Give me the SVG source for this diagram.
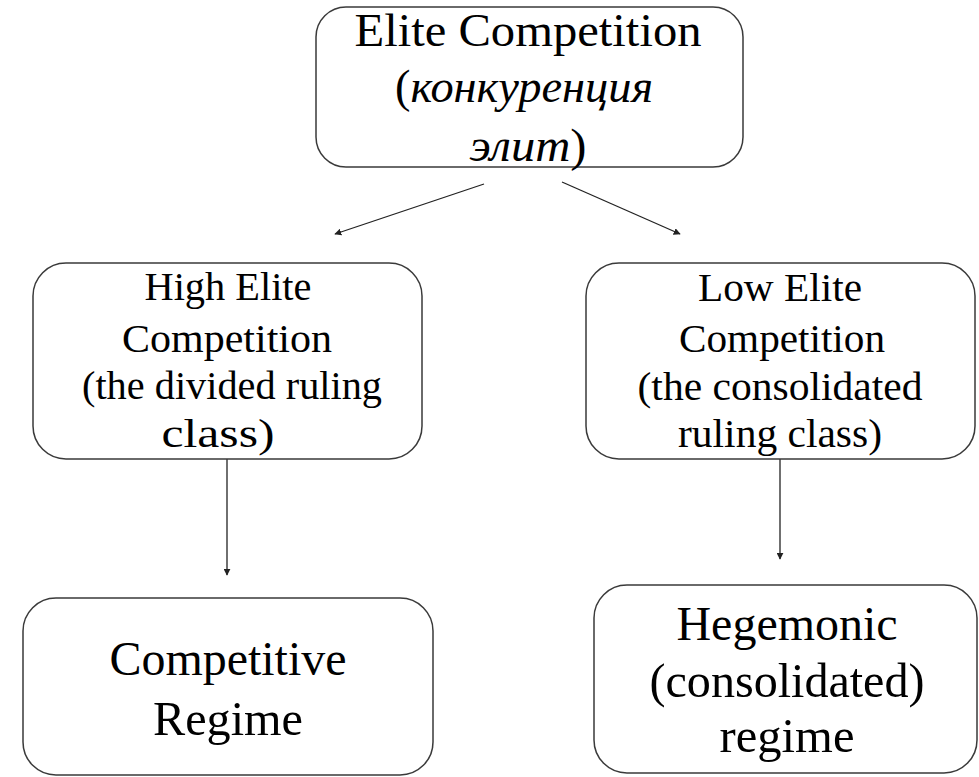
<svg xmlns="http://www.w3.org/2000/svg" width="979" height="777" viewBox="0 0 979 777">
  <defs>
    <style>
      .box { fill: #ffffff; stroke: #3a3a3a; stroke-width: 1.5; }
      .t { font-family: 'Liberation Serif', Tinos, 'Times New Roman', 'DejaVu Serif', serif; fill: #000000; text-anchor: middle; }
      .conn { stroke: #222222; stroke-width: 1.3; fill: none; marker-end: url(#arrow); }
    </style>
    <marker id="arrow" viewBox="0 0 10 10" refX="9" refY="5" markerWidth="7" markerHeight="7" markerUnits="userSpaceOnUse" orient="auto">
      <path d="M0,0 L10,5 L0,10 z" fill="#222222"/>
    </marker>
  </defs>
  <rect width="979" height="777" fill="#ffffff"/>

  <g id="connectors">
    <line class="conn" x1="484" y1="184" x2="335" y2="234"/>
    <line class="conn" x1="562" y1="182" x2="680" y2="234"/>
    <line class="conn" x1="227" y1="459" x2="227" y2="575"/>
    <line class="conn" x1="780" y1="459" x2="780" y2="559"/>
  </g>

  <g id="elite-competition">
    <rect class="box" x="316" y="7" width="427" height="160" rx="30" ry="30"/>
    <text class="t" font-family="Liberation Serif, serif" font-size="46" x="528" y="46" textLength="347" lengthAdjust="spacingAndGlyphs">Elite Competition</text>
    <text class="t" font-family="Liberation Serif, serif" font-size="46" x="524" y="102" textLength="258" lengthAdjust="spacingAndGlyphs">(<tspan font-style="italic">конкуренция</tspan></text>
    <text class="t" font-family="Liberation Serif, serif" font-size="46" x="528" y="161" textLength="117" lengthAdjust="spacingAndGlyphs"><tspan font-style="italic">элит</tspan>)</text>
  </g>

  <g id="high-elite">
    <rect class="box" x="33" y="263" width="389" height="196" rx="33" ry="33"/>
    <text class="t" font-family="Liberation Serif, serif" font-size="39" x="228" y="300" textLength="167" lengthAdjust="spacingAndGlyphs">High Elite</text>
    <text class="t" font-family="Liberation Serif, serif" font-size="39" x="227" y="352" textLength="210" lengthAdjust="spacingAndGlyphs">Competition</text>
    <text class="t" font-family="Liberation Serif, serif" font-size="39" x="232" y="399" textLength="300" lengthAdjust="spacingAndGlyphs">(the divided ruling</text>
    <text class="t" font-family="Liberation Serif, serif" font-size="39" x="218" y="447" textLength="113" lengthAdjust="spacingAndGlyphs">class)</text>
  </g>

  <g id="low-elite">
    <rect class="box" x="586" y="263" width="389" height="196" rx="33" ry="33"/>
    <text class="t" font-family="Liberation Serif, serif" font-size="39" x="780" y="301" textLength="164" lengthAdjust="spacingAndGlyphs">Low Elite</text>
    <text class="t" font-family="Liberation Serif, serif" font-size="39" x="782" y="352" textLength="206" lengthAdjust="spacingAndGlyphs">Competition</text>
    <text class="t" font-family="Liberation Serif, serif" font-size="39" x="780" y="400" textLength="285" lengthAdjust="spacingAndGlyphs">(the consolidated</text>
    <text class="t" font-family="Liberation Serif, serif" font-size="39" x="780" y="447" textLength="204" lengthAdjust="spacingAndGlyphs">ruling class)</text>
  </g>

  <g id="competitive-regime">
    <rect class="box" x="23" y="598" width="410" height="177" rx="33" ry="33"/>
    <text class="t" font-family="Liberation Serif, serif" font-size="48" x="228" y="675" textLength="237" lengthAdjust="spacingAndGlyphs">Competitive</text>
    <text class="t" font-family="Liberation Serif, serif" font-size="48" x="228" y="735" textLength="150" lengthAdjust="spacingAndGlyphs">Regime</text>
  </g>

  <g id="hegemonic-regime">
    <rect class="box" x="594" y="585" width="383" height="188" rx="33" ry="33"/>
    <text class="t" font-family="Liberation Serif, serif" font-size="48" x="787" y="640" textLength="221" lengthAdjust="spacingAndGlyphs">Hegemonic</text>
    <text class="t" font-family="Liberation Serif, serif" font-size="48" x="787" y="697" textLength="275" lengthAdjust="spacingAndGlyphs">(consolidated)</text>
    <text class="t" font-family="Liberation Serif, serif" font-size="48" x="787" y="752" textLength="135" lengthAdjust="spacingAndGlyphs">regime</text>
  </g>
</svg>
